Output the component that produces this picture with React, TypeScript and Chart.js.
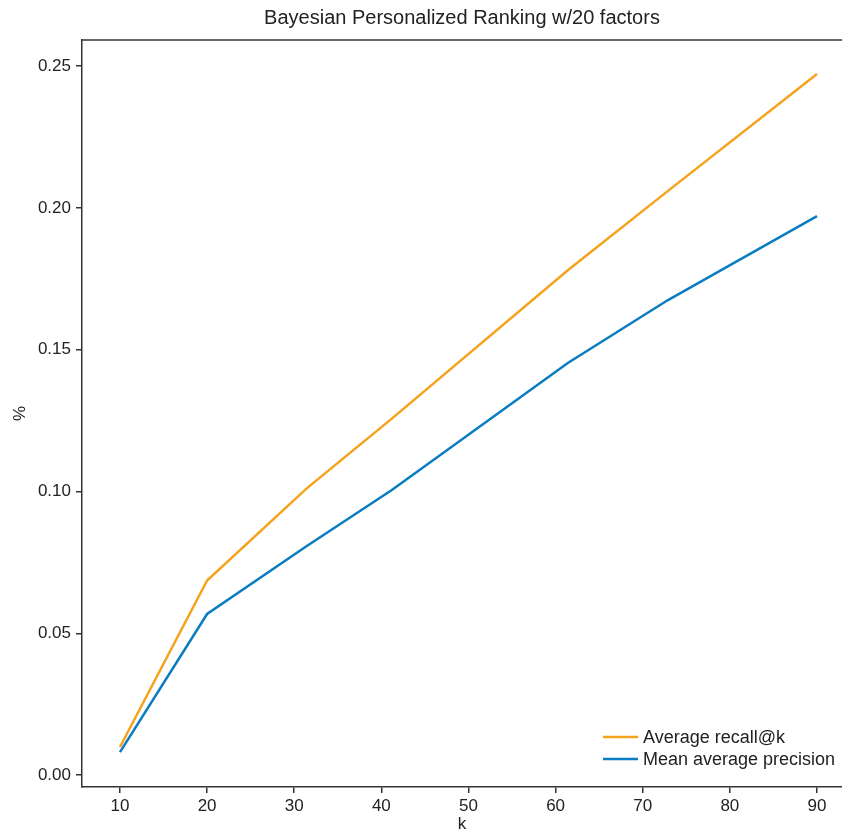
import React, { useEffect, useRef } from "react";
import { Chart, registerables } from "chart.js";

Chart.register(...registerables);

const kValues = [10, 20, 31.4, 41.2, 61.4, 72.9, 90];
const recallValues = [0.0099, 0.0686, 0.101, 0.1257, 0.178, 0.206, 0.2472];
const mapValues = [0.0081, 0.0568, 0.0807, 0.1005, 0.1453, 0.1675, 0.1971];
const seriesLabels = ["Average recall@k", "Mean average precision"];
const seriesColors = ["#f5a31c", "#0a7cc1"];
const titleText = "Bayesian Personalized Ranking w/20 factors";
const xTitle = "k";
const yTitle = "%";

const FONT = '"Liberation Sans", Arial, sans-serif';
const TEXT = "#222222";

const framePlugin = {
  id: "frameAndLegend",
  afterDraw(chart: any) {
    const { ctx, chartArea } = chart;
    ctx.save();
    ctx.strokeStyle = "#333333";
    ctx.lineWidth = 1.5;
    ctx.beginPath();
    ctx.moveTo(chartArea.left, chartArea.top);
    ctx.lineTo(chartArea.right, chartArea.top);
    ctx.stroke();
    // legend
    const x0 = chartArea.right - 239;
    const rows = [chartArea.bottom - 50, chartArea.bottom - 28];
    ctx.font = "18px " + FONT;
    ctx.textBaseline = "middle";
    ctx.fillStyle = TEXT;
    seriesLabels.forEach((lab, i) => {
      ctx.strokeStyle = seriesColors[i];
      ctx.lineWidth = 2.5;
      ctx.beginPath();
      ctx.moveTo(x0, rows[i]);
      ctx.lineTo(x0 + 35, rows[i]);
      ctx.stroke();
      ctx.fillText(lab, x0 + 40, rows[i] + 1);
    });
    ctx.restore();
  },
};

export default function App() {
  const ref = useRef<HTMLCanvasElement | null>(null);
  useEffect(() => {
    if (!ref.current) return;
    const chart = new Chart(ref.current, {
      type: "line",
      data: {
        datasets: [
          {
            label: seriesLabels[0],
            data: kValues.map((k, i) => ({ x: k, y: recallValues[i] })),
            borderColor: seriesColors[0],
            backgroundColor: seriesColors[0],
            borderWidth: 2.5,
            pointRadius: 0,
            tension: 0,
          },
          {
            label: seriesLabels[1],
            data: kValues.map((k, i) => ({ x: k, y: mapValues[i] })),
            borderColor: seriesColors[1],
            backgroundColor: seriesColors[1],
            borderWidth: 2.5,
            pointRadius: 0,
            tension: 0,
          },
        ],
      },
      options: {
        responsive: false,
        animation: false,
        layout: { padding: { left: 0, right: 0, top: 0, bottom: 0 } },
        plugins: {
          legend: { display: false },
          tooltip: { enabled: false },
          title: {
            display: true,
            text: titleText,
            fullSize: false,
            color: TEXT,
            font: { family: FONT, size: 20, weight: "normal" },
            padding: { top: 6, bottom: 10 },
          },
        },
        scales: {
          x: {
            type: "linear",
            min: 5.64,
            max: 92.87,
            afterFit: (s: any) => {
              s.height = 48;
            },
            ticks: {
              stepSize: 10,
              includeBounds: false,
              color: TEXT,
              font: { family: FONT, size: 17 },
              padding: 3,
              maxRotation: 0,
            },
            grid: {
              display: true,
              drawOnChartArea: false,
              drawTicks: true,
              tickLength: 6,
              color: "#333333",
              lineWidth: 1.5,
            },
            border: { display: true, color: "#333333", width: 1.5 },
            title: {
              display: true,
              text: xTitle,
              color: TEXT,
              font: { family: FONT, size: 17 },
              padding: { top: 0, bottom: 0 },
            },
          },
          y: {
            type: "linear",
            min: -0.0042,
            max: 0.2592,
            afterFit: (s: any) => {
              s.width = 82;
            },
            ticks: {
              stepSize: 0.05,
              includeBounds: false,
              color: TEXT,
              font: { family: FONT, size: 17 },
              padding: 5,
              callback: (v: any) => Number(v).toFixed(2),
            },
            grid: {
              display: true,
              drawOnChartArea: false,
              drawTicks: true,
              tickLength: 6,
              color: "#333333",
              lineWidth: 1.5,
            },
            border: { display: true, color: "#333333", width: 1.5 },
            title: {
              display: true,
              text: yTitle,
              color: TEXT,
              font: { family: FONT, size: 17 },
              padding: { top: 10, bottom: 0 },
            },
          },
        },
      },
      plugins: [framePlugin],
    });
    return () => chart.destroy();
  }, []);
  return (
    <div style={{ position: "absolute", left: 0, top: 0, width: 842, height: 835, background: "#fff" }}>
      <canvas ref={ref} width={842} height={835} style={{ display: "block" }} />
    </div>
  );
}
